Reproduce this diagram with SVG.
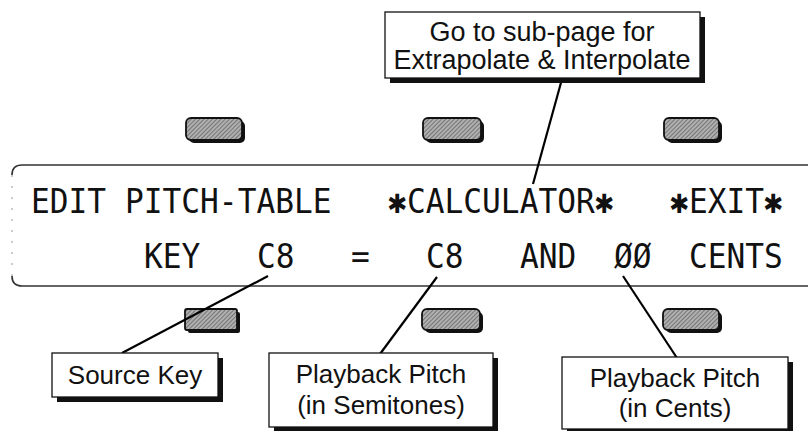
<svg xmlns="http://www.w3.org/2000/svg" width="808" height="431" viewBox="0 0 808 431">
<defs>
<pattern id="hatch" width="3" height="3" patternUnits="userSpaceOnUse" patternTransform="rotate(45)">
<rect width="3" height="3" fill="#b0b0b0"/>
<line x1="0" y1="0" x2="0" y2="3" stroke="#444" stroke-width="1.1"/>
</pattern>
<style>
.lcd{font-family:"DejaVu Sans Mono","Liberation Mono",monospace;font-size:31.2px;fill:#111}
.lbl{font-family:"Liberation Sans",Arial,sans-serif;font-size:26px;fill:#111;text-anchor:middle}
.box{fill:#fff;stroke:#111;stroke-width:1.3}
.shadow{fill:#111}
.btn{fill:url(#hatch);stroke:#111;stroke-width:1.8}
.btnsh{fill:#111}
.conn{stroke:#000;stroke-width:2.2;fill:none}
</style>
</defs>
<rect width="808" height="431" fill="#fff"/>

<g id="lcd">
<path d="M808 165 H22 Q12 165 12 175" fill="none" stroke="#333" stroke-width="1.6"/>
<path d="M12 276 Q12 286 22 286 H808" fill="none" stroke="#333" stroke-width="1.6"/>
<path d="M12 175 V276" fill="none" stroke="#999" stroke-width="1" stroke-dasharray="2 9"/>
<g transform="scale(1,1.1)">
<text class="lcd" y="193.6"><tspan x="31">EDIT</tspan><tspan x="125">PITCH-TABLE</tspan><tspan x="388">✱</tspan><tspan x="407">CALCULATOR</tspan><tspan x="595">✱</tspan><tspan x="670">✱</tspan><tspan x="689">EXIT</tspan><tspan x="764">✱</tspan></text>
<text class="lcd" y="243.6"><tspan x="144">KEY</tspan><tspan x="257">C8</tspan><tspan x="351">=</tspan><tspan x="426">C8</tspan><tspan x="520">AND</tspan><tspan x="614">ØØ</tspan><tspan x="689">CENTS</tspan></text>
</g>
</g>

<g id="buttons-top">
<rect class="btnsh" x="189" y="121" width="56" height="22" rx="5"/>
<rect class="btn" x="186" y="118" width="56" height="22" rx="5"/>
<rect class="btnsh" x="426" y="121" width="58" height="22" rx="5"/>
<rect class="btn" x="423" y="118" width="58" height="22" rx="5"/>
<rect class="btnsh" x="667" y="121" width="55" height="22" rx="5"/>
<rect class="btn" x="664" y="118" width="55" height="22" rx="5"/>
</g>
<g id="buttons-bottom">
<rect class="btnsh" x="188" y="312" width="52" height="21" rx="2"/>
<rect class="btn" x="185" y="309" width="52" height="21" rx="2"/>
<rect class="btnsh" x="425" y="312" width="58" height="21" rx="5"/>
<rect class="btn" x="422" y="309" width="58" height="21" rx="5"/>
<rect class="btnsh" x="666" y="312" width="56" height="21" rx="5"/>
<rect class="btn" x="663" y="309" width="56" height="21" rx="5"/>
</g>

<g id="connectors">
<line class="conn" x1="562" y1="79" x2="533" y2="184"/>
<line class="conn" x1="268" y1="276" x2="122" y2="353"/>
<line class="conn" x1="437" y1="277" x2="380" y2="354"/>
<line class="conn" x1="623" y1="276" x2="677" y2="358"/>
</g>

<g id="callout-calc">
<rect class="shadow" x="390" y="17" width="315" height="66"/>
<rect class="box" x="385" y="12" width="315" height="66"/>
<text class="lbl" x="542" y="41" style="font-size:27px">Go to sub-page for</text>
<text class="lbl" x="542" y="69" style="font-size:27px">Extrapolate &amp; Interpolate</text>
</g>

<g id="source-key">
<rect class="shadow" x="57" y="358" width="166" height="44"/>
<rect class="box" x="52" y="353" width="166" height="44"/>
<text class="lbl" x="135" y="384">Source Key</text>
</g>

<g id="pitch-semitones">
<rect class="shadow" x="274" y="358" width="224" height="74"/>
<rect class="box" x="269" y="353" width="224" height="74"/>
<text class="lbl" x="381" y="383">Playback Pitch</text>
<text class="lbl" x="381" y="414">(in Semitones)</text>
</g>

<g id="pitch-cents">
<rect class="shadow" x="567" y="362" width="226" height="72"/>
<rect class="box" x="562" y="357" width="226" height="72"/>
<text class="lbl" x="675" y="387">Playback Pitch</text>
<text class="lbl" x="675" y="417">(in Cents)</text>
</g>
</svg>
